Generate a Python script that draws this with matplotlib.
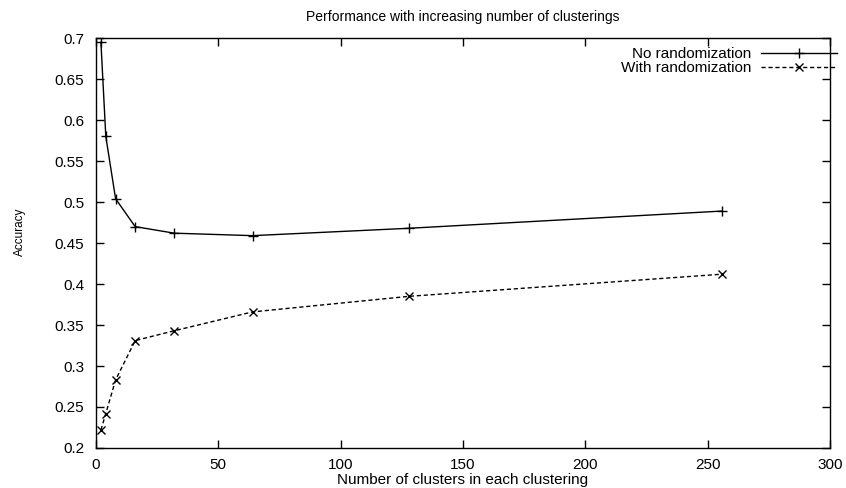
import matplotlib
matplotlib.use('Agg')
import matplotlib.pyplot as plt

plt.rcParams['font.family'] = ['Liberation Sans', 'DejaVu Sans']

# datos
clusters = [2, 4, 8, 16, 32, 64, 128, 256]
sin_random = [0.695, 0.580, 0.504, 0.470, 0.462, 0.459, 0.468, 0.489]
con_random = [0.222, 0.242, 0.283, 0.331, 0.343, 0.366, 0.385, 0.412]
yticks = [0.2, 0.25, 0.3, 0.35, 0.4, 0.45, 0.5, 0.55, 0.6, 0.65, 0.7]
ytick_labels = ['0.2', '0.25', '0.3', '0.35', '0.4', '0.45', '0.5', '0.55',
                '0.6', '0.65', '0.7']

fig = plt.figure(figsize=(8.46, 4.88), dpi=100)
ax = fig.add_axes([0.1135, 0.082, 0.8675, 0.840])

ax.plot(clusters, sin_random, color='black', linewidth=1.0, marker='+',
        markersize=7, markeredgewidth=1.0, label='No randomization')
ax.plot(clusters, con_random, color='black', linewidth=1.0, linestyle=(0, (3, 2)),
        marker='x', markersize=6, markeredgewidth=1.0, label='With randomization')

ax.set_xlim(0, 300)
ax.set_ylim(0.2, 0.7)
ax.set_xticks(range(0, 301, 50))
ax.set_yticks(yticks)
ax.set_yticklabels(ytick_labels)
ax.tick_params(direction='in', top=True, right=True, length=6, width=1,
               labelsize=11)
ax.tick_params(axis='y', pad=8.5)
ax.tick_params(axis='x', pad=7)
for s in ax.spines.values():
    s.set_linewidth(1.0)

ax.set_title('Performance with increasing number of clusterings', fontsize=10, pad=12)
ax.set_xlabel('Number of clusters in each clustering', fontsize=11, labelpad=1)
fig.text(0.024, 1 - 232 / 488, 'Accuracy', rotation=90, fontsize=8.5,
         ha='center', va='center')

leg = ax.legend(loc='upper right', bbox_to_anchor=(1.022, 1.0), frameon=False,
                markerfirst=False, fontsize=11, handlelength=5.0,
                handletextpad=0.6, labelspacing=0.0, borderaxespad=0.2)

fig.savefig('out.png', dpi=100)
